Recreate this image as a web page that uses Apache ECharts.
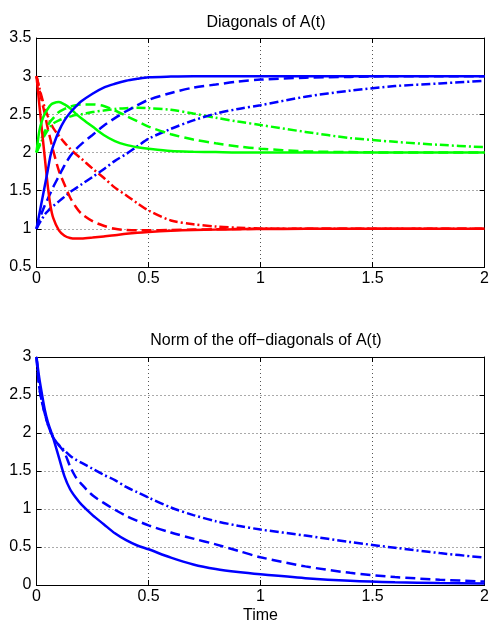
<!DOCTYPE html>
<html>
<head>
<meta charset="utf-8">
<script src="https://cdn.jsdelivr.net/npm/echarts@6/dist/echarts.min.js"></script>
<style>
html,body{margin:0;padding:0;background:#fff;}
#chart{width:492px;height:625px;}
</style>
</head>
<body>
<div id="chart"></div>
<script>
// time samples (shared by all curves)
const T = [0, 0.0125, 0.025, 0.0375, 0.05, 0.0625, 0.075, 0.1, 0.125, 0.15, 0.175, 0.2, 0.25, 0.3, 0.35, 0.4, 0.45, 0.5, 0.6, 0.7, 0.8, 0.9, 1.0, 1.2, 1.4, 1.6, 1.8, 2.0];

// Diagonals of A(t)
const redSolid   = [3.0, 2.63, 2.27, 1.92, 1.57, 1.3, 1.14, 0.98, 0.91, 0.88, 0.872, 0.873, 0.885, 0.9, 0.915, 0.935, 0.95, 0.96, 0.975, 0.985, 0.99, 0.995, 0.997, 1.0, 1.0, 1.0, 1.0, 1.0];
const greenSolid = [2.0, 2.28, 2.42, 2.51, 2.57, 2.62, 2.645, 2.66, 2.63, 2.58, 2.51, 2.45, 2.34, 2.23, 2.15, 2.1, 2.07, 2.05, 2.02, 2.01, 2.005, 2.0, 2.0, 2.0, 2.0, 2.0, 2.0, 2.0];
const blueSolid  = [1.0, 1.19, 1.38, 1.57, 1.76, 1.96, 2.09, 2.28, 2.42, 2.52, 2.6, 2.67, 2.77, 2.85, 2.9, 2.94, 2.965, 2.985, 2.995, 3.0, 3.0, 3.0, 3.0, 3.0, 3.0, 3.0, 3.0, 3.0];

const redDashed   = [3.0, 2.83, 2.66, 2.5, 2.32, 2.17, 2.02, 1.76, 1.58, 1.41, 1.29, 1.2, 1.1, 1.04, 1.0, 0.985, 0.98, 0.98, 0.985, 0.99, 0.995, 0.998, 1.0, 1.0, 1.0, 1.0, 1.0, 1.0];
const greenDashed = [2.0, 2.1, 2.2, 2.28, 2.35, 2.41, 2.45, 2.53, 2.57, 2.6, 2.62, 2.63, 2.63, 2.61, 2.55, 2.48, 2.41, 2.34, 2.24, 2.17, 2.12, 2.08, 2.05, 2.015, 2.005, 2.0, 2.0, 2.0];
const blueDashed  = [1.0, 1.12, 1.22, 1.31, 1.39, 1.47, 1.55, 1.69, 1.83, 1.95, 2.04, 2.11, 2.23, 2.35, 2.45, 2.54, 2.62, 2.69, 2.78, 2.85, 2.89, 2.93, 2.955, 2.98, 2.99, 3.0, 3.0, 3.0];

const redDashDot   = [3.0, 2.85, 2.71, 2.58, 2.48, 2.39, 2.32, 2.22, 2.13, 2.05, 1.98, 1.92, 1.79, 1.67, 1.54, 1.44, 1.335, 1.24, 1.11, 1.06, 1.03, 1.015, 1.005, 1.0, 1.0, 1.0, 1.0, 1.0];
const greenDashDot = [2.0, 2.08, 2.16, 2.23, 2.29, 2.34, 2.38, 2.42, 2.45, 2.47, 2.49, 2.5, 2.53, 2.55, 2.57, 2.58, 2.585, 2.58, 2.56, 2.51, 2.455, 2.405, 2.36, 2.27, 2.19, 2.14, 2.1, 2.07];
const blueDashDot  = [1.0, 1.07, 1.13, 1.19, 1.23, 1.27, 1.3, 1.36, 1.42, 1.48, 1.53, 1.58, 1.68, 1.78, 1.89, 1.98, 2.08, 2.18, 2.31, 2.42, 2.51, 2.57, 2.62, 2.73, 2.81, 2.87, 2.905, 2.94];

// Norm of the off-diagonals of A(t)
const normSolid   = [3.0, 2.72, 2.5, 2.3, 2.15, 2.04, 1.93, 1.68, 1.43, 1.26, 1.15, 1.06, 0.92, 0.8, 0.68, 0.59, 0.52, 0.47, 0.36, 0.27, 0.21, 0.17, 0.14, 0.09, 0.055, 0.035, 0.025, 0.02];
const normDashed  = [3.0, 2.6, 2.4, 2.25, 2.12, 2.02, 1.94, 1.84, 1.74, 1.56, 1.42, 1.33, 1.18, 1.08, 0.99, 0.91, 0.845, 0.785, 0.69, 0.61, 0.535, 0.45, 0.365, 0.245, 0.16, 0.105, 0.07, 0.045];
const normDashDot = [3.0, 2.6, 2.4, 2.25, 2.12, 2.02, 1.94, 1.84, 1.77, 1.7, 1.65, 1.61, 1.53, 1.45, 1.38, 1.29, 1.22, 1.15, 1.02, 0.92, 0.84, 0.78, 0.73, 0.65, 0.565, 0.49, 0.42, 0.36];

// axis ranges / text
const xTicks = {min: 0, max: 2, interval: 0.5};
const yTop = {min: 0.5, max: 3.5, interval: 0.5};
const yBot = {min: 0, max: 3, interval: 0.5};
const titleTop = 'Diagonals of A(t)';
const titleBot = 'Norm of the off\u2212diagonals of A(t)';
const xName = 'Time';

const FONT = "'Liberation Sans', Arial, Helvetica, sans-serif";
const RED = '#ff0000', GREEN = '#00ff00', BLUE = '#0000ff';
const SOLID = 'solid', DASHED = [10, 5], DASHDOT = [9, 3, 2, 3];

function pts(vals) { return T.map((t, i) => [t, vals[i]]); }
function line(vals, color, type, idx) {
  return {
    type: 'line', xAxisIndex: idx, yAxisIndex: idx, data: pts(vals),
    showSymbol: false, smooth: 0.3, clip: true, silent: true,
    lineStyle: {color: color, width: 2.5, type: type, cap: 'butt'}
  };
}
const gridLine = {show: true, lineStyle: {color: '#555', width: 1, type: [1, 3]}};
const boxLine = {show: true, onZero: false, lineStyle: {color: '#000', width: 1}};
function xAx(gi, pos, labels, name) {
  return Object.assign({
    type: 'value', gridIndex: gi, position: pos,
    axisLine: boxLine,
    axisTick: {show: true, inside: true, length: 5, lineStyle: {color: '#000'}},
    axisLabel: {show: labels, margin: 4, color: '#000', fontSize: 16, fontFamily: FONT},
    splitLine: pos === 'bottom' ? gridLine : {show: false},
    name: name || '', nameLocation: 'middle', nameGap: 23,
    nameTextStyle: {color: '#000', fontSize: 16, fontFamily: FONT}
  }, xTicks);
}
function yAx(gi, pos, labels, rng) {
  return Object.assign({
    type: 'value', gridIndex: gi, position: pos,
    axisLine: boxLine,
    axisTick: {show: true, inside: true, length: 5, lineStyle: {color: '#000'}},
    axisLabel: {show: labels, margin: 5, color: '#000', fontSize: 16, fontFamily: FONT},
    splitLine: pos === 'left' ? gridLine : {show: false}
  }, rng);
}

const chart = echarts.init(document.getElementById('chart'), null, {renderer: 'canvas'});
chart.setOption({
  animation: false,
  backgroundColor: '#fff',
  title: [
    {text: titleTop, left: 261, top: 10, textAlign: 'center',
     textStyle: {fontSize: 16, fontWeight: 'normal', color: '#000', fontFamily: FONT}},
    {text: titleBot, left: 261, top: 328, textAlign: 'center',
     textStyle: {fontSize: 16, fontWeight: 'normal', color: '#000', fontFamily: FONT}}
  ],
  grid: [
    {left: 36.5, right: 7, top: 38, height: 229},
    {left: 36.5, right: 7, top: 357, height: 229}
  ],
  xAxis: [xAx(0, 'bottom', true), xAx(0, 'top', false), xAx(1, 'bottom', true, xName), xAx(1, 'top', false)],
  yAxis: [yAx(0, 'left', true, yTop), yAx(0, 'right', false, yTop), yAx(1, 'left', true, yBot), yAx(1, 'right', false, yBot)],
  series: [
    line(redDashDot, RED, DASHDOT, 0),
    line(greenDashDot, GREEN, DASHDOT, 0),
    line(blueDashDot, BLUE, DASHDOT, 0),
    line(redDashed, RED, DASHED, 0),
    line(greenDashed, GREEN, DASHED, 0),
    line(blueDashed, BLUE, DASHED, 0),
    line(redSolid, RED, SOLID, 0),
    line(greenSolid, GREEN, SOLID, 0),
    line(blueSolid, BLUE, SOLID, 0),
    line(normDashDot, BLUE, DASHDOT, 2),
    line(normDashed, BLUE, DASHED, 2),
    line(normSolid, BLUE, SOLID, 2)
  ]
});
</script>
</body>
</html>
